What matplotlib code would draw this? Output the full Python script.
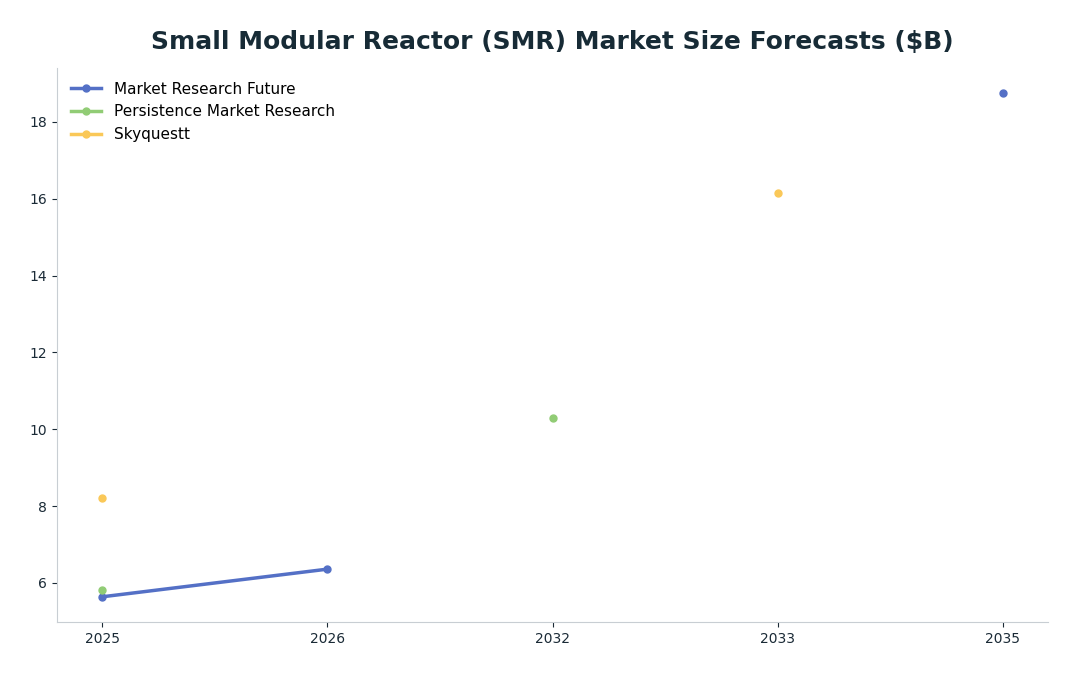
import numpy as np
import matplotlib
matplotlib.use("Agg")
import matplotlib.pyplot as plt

years = ["2025", "2026", "2032", "2033", "2035"]
mrf = [5.64, 6.36, np.nan, np.nan, 18.75]
pmr = [5.82, np.nan, 10.3, np.nan, np.nan]
sky = [8.2, np.nan, np.nan, 16.16, np.nan]

series = [("Market Research Future", mrf, "#5470c6"),
          ("Persistence Market Research", pmr, "#91cc75"),
          ("Skyquestt", sky, "#fac858")]

fig = plt.figure(figsize=(10.79, 6.76), dpi=100)
ax = fig.add_axes([57/1079, 1-622/676, (1048-57)/1079, (622-68)/676])
x = np.arange(len(years))
for name, vals, c in series:
    ax.plot(x, vals, color=c, lw=2.5, marker="o", ms=5, label=name)

ax.set_xticks(x)
ax.set_xticklabels(years)
for s in ["top", "right"]:
    ax.spines[s].set_visible(False)
for s in ["left", "bottom"]:
    ax.spines[s].set_color("#c8ced3")
ax.tick_params(colors="#1a2a36", labelsize=10)
ax.tick_params(axis="both", color="#1a2a36")
ax.set_title("Small Modular Reactor (SMR) Market Size Forecasts ($B)",
             fontsize=18, fontweight="bold", color="#172b36", pad=14)
ax.legend(loc="upper left", frameon=False, fontsize=11)
fig.savefig("out.png", dpi=100)
